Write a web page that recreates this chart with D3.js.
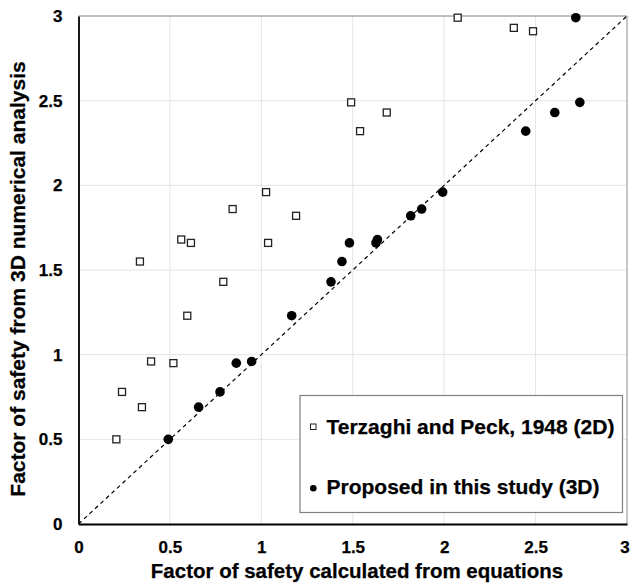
<!DOCTYPE html>
<html>
<head>
<meta charset="utf-8">
<script src="https://cdn.jsdelivr.net/npm/d3@7"></script>
<style>
  html, body { margin: 0; padding: 0; background: #fff; overflow: hidden; }
  text { font-family: "Liberation Sans", Arial, sans-serif; font-weight: bold; fill: #000; }
</style>
</head>
<body>
<svg id="chart" width="630" height="585"></svg>
<script>
// Data
const terzaghiX = [0.207, 0.238, 0.347, 0.397, 0.519, 0.336, 0.562, 0.615, 0.843, 1.026, 1.037, 0.792, 0.595, 1.19, 1.491, 1.686, 1.54, 2.074, 2.381, 2.486];
const terzaghiY = [0.50, 0.78, 0.69, 0.96, 0.95, 1.55, 1.68, 1.66, 1.86, 1.96, 1.66, 1.43, 1.23, 1.82, 2.49, 2.43, 2.32, 2.99, 2.93, 2.91];
const proposedX = [0.491, 0.657, 0.774, 0.863, 0.947, 1.166, 1.381, 1.441, 1.482, 1.627, 1.635, 1.817, 1.877, 1.992, 2.72, 2.742, 2.605, 2.446];
const proposedY = [0.50, 0.69, 0.78, 0.95, 0.96, 1.23, 1.43, 1.55, 1.66, 1.66, 1.68, 1.82, 1.86, 1.96, 2.99, 2.49, 2.43, 2.32];
const ticks = [0, 0.5, 1, 1.5, 2, 2.5, 3];
const tickLabels = ["0", "0.5", "1", "1.5", "2", "2.5", "3"];
const legendLabels = ["Terzaghi and Peck, 1948 (2D)", "Proposed in this study (3D)"];
const xTitle = "Factor of safety calculated from equations";
const yTitle = "Factor of safety from 3D numerical analysis";

const svg = d3.select("#chart");
const L = 78.5, R = 627, T = 16, B = 524;
const x = d3.scaleLinear().domain([0, 3]).range([L, R]);
const y = d3.scaleLinear().domain([0, 3]).range([B, T]);

// gridlines
const grid = svg.append("g");
grid.selectAll("line.v").data(ticks.slice(1, -1)).join("line")
  .attr("x1", d => x(d)).attr("x2", d => x(d)).attr("y1", T).attr("y2", B)
  .attr("stroke", "#e4e4e4").attr("stroke-width", 1);
grid.selectAll("line.h").data(ticks.slice(1, -1)).join("line")
  .attr("y1", d => y(d)).attr("y2", d => y(d)).attr("x1", L).attr("x2", R)
  .attr("stroke", "#e4e4e4").attr("stroke-width", 1);

// top & right borders
svg.append("line").attr("x1", L).attr("x2", R).attr("y1", T).attr("y2", T).attr("stroke", "#808080").attr("stroke-width", 1.2);
svg.append("line").attr("x1", R).attr("x2", R).attr("y1", T).attr("y2", B).attr("stroke", "#a0a0a0").attr("stroke-width", 1.2);

// diagonal 1:1 line
svg.append("line")
  .attr("x1", x(0)).attr("y1", y(0)).attr("x2", x(3)).attr("y2", y(3))
  .attr("stroke", "#000").attr("stroke-width", 1.2).attr("stroke-dasharray", "4,3.5");

// axes
const xAxis = d3.axisBottom(x).tickValues(ticks).tickFormat((d, i) => tickLabels[i]).tickSize(0).tickPadding(17);
const yAxis = d3.axisLeft(y).tickValues(ticks).tickFormat((d, i) => tickLabels[i]).tickSize(0).tickPadding(16);
const gx = svg.append("g").attr("transform", `translate(0,${B})`).call(xAxis);
const gy = svg.append("g").attr("transform", `translate(${L},0)`).call(yAxis);
[gx, gy].forEach(g => {
  g.select(".domain").attr("stroke", "#000").attr("stroke-width", 1.8);
  g.selectAll("text").style("font-size", "17px").style("font-weight", "bold")
    .style("font-family", '"Liberation Sans", Arial, sans-serif').attr("fill", "#000")
    .attr("stroke", "#000").attr("stroke-width", 0.25);
});
// keep the last x tick label inside the window edge
gx.selectAll(".tick text").filter((d, i) => i === ticks.length - 1).attr("dx", "-2.5");

// points
svg.append("g").selectAll("rect").data(terzaghiX.map((v, i) => [v, terzaghiY[i]])).join("rect")
  .attr("x", d => x(d[0]) - 3.5).attr("y", d => y(d[1]) - 3.5)
  .attr("width", 7).attr("height", 7)
  .attr("fill", "#fff").attr("stroke", "#222").attr("stroke-width", 1.3);
svg.append("g").selectAll("circle").data(proposedX.map((v, i) => [v, proposedY[i]])).join("circle")
  .attr("cx", d => x(d[0])).attr("cy", d => y(d[1])).attr("r", 4.8)
  .attr("fill", "#000");

// legend
const lg = svg.append("g");
lg.append("rect").attr("x", 300).attr("y", 395.5).attr("width", 322.5).attr("height", 117)
  .attr("fill", "#fff").attr("stroke", "#808080").attr("stroke-width", 1.2);
lg.append("rect").attr("x", 310.5).attr("y", 424).attr("width", 5.5).attr("height", 5.5)
  .attr("fill", "#fff").attr("stroke", "#222").attr("stroke-width", 1);
lg.append("circle").attr("cx", 313.3).attr("cy", 488.3).attr("r", 3.3).attr("fill", "#000");
lg.selectAll("text").data(legendLabels).join("text")
  .attr("x", 326.5).attr("y", (d, i) => 434 + i * 60)
  .attr("stroke", "#000").attr("stroke-width", 0.25)
  .style("font-size", "21px").text(d => d);

// axis titles
svg.append("text").attr("x", 357).attr("y", 578).attr("text-anchor", "middle")
  .attr("stroke", "#000").attr("stroke-width", 0.25)
  .style("font-size", "20.5px").text(xTitle);
svg.append("text").attr("transform", "translate(25,279) rotate(-90)").attr("text-anchor", "middle")
  .attr("stroke", "#000").attr("stroke-width", 0.25)
  .style("font-size", "21px").text(yTitle);
</script>
</body>
</html>
